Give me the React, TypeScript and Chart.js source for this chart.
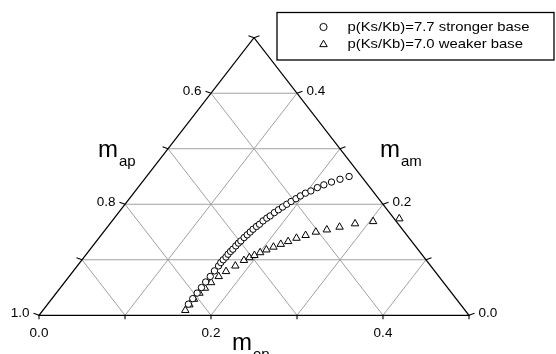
import React, { useEffect, useRef } from "react";
import { Chart, registerables } from "chart.js";

Chart.register(...registerables);

// Stronger base, p(Ks/Kb)=7.7: mole fractions m_am and m_ep along the path
const strongAm = [
  0.02, 0.03, 0.04, 0.05, 0.06, 0.07, 0.08, 0.089, 0.095, 0.1, 0.105, 0.11,
  0.115, 0.119, 0.125, 0.13, 0.134, 0.14, 0.145, 0.15, 0.155, 0.16, 0.164,
  0.17, 0.175, 0.179, 0.185, 0.19, 0.195, 0.2, 0.205, 0.21, 0.215, 0.22,
  0.224, 0.23, 0.235, 0.24, 0.245, 0.25,
];
const strongEp = [
  0.1637, 0.1638, 0.1639, 0.1639, 0.1638, 0.1641, 0.164, 0.1643, 0.1639,
  0.1642, 0.1649, 0.1648, 0.1652, 0.1659, 0.1663, 0.1669, 0.1677, 0.1685,
  0.1696, 0.1706, 0.1714, 0.1729, 0.1744, 0.1755, 0.1774, 0.1793, 0.1812,
  0.1834, 0.1857, 0.1881, 0.1907, 0.1938, 0.1964, 0.1998, 0.2041, 0.2087,
  0.2137, 0.2201, 0.2275, 0.2356,
];

// Weaker base, p(Ks/Kb)=7.0
const weakAm = [
  0.009, 0.019, 0.029, 0.04, 0.049, 0.059, 0.07, 0.079, 0.089, 0.099, 0.104,
  0.108, 0.113, 0.118, 0.123, 0.128, 0.133, 0.139, 0.144, 0.15, 0.154, 0.159,
  0.165, 0.169, 0.174,
];
const weakEp = [
  0.1656, 0.1654, 0.1657, 0.1665, 0.1684, 0.1706, 0.174, 0.178, 0.1838,
  0.1888, 0.1926, 0.1965, 0.2006, 0.2054, 0.2111, 0.2171, 0.2232, 0.2299,
  0.238, 0.2469, 0.2577, 0.27, 0.285, 0.304, 0.3319,
];

const seriesLabels = ["p(Ks/Kb)=7.7 stronger base", "p(Ks/Kb)=7.0 weaker base"];

// Axis ticks (every 0.1, labelled every 0.2)
const tickSteps = [0, 0.1, 0.2, 0.3, 0.4, 0.5];
const epTickLabels = ["0.0", "", "0.2", "", "0.4", ""];
const amTickLabels = ["0.0", "", "0.2", "", "0.4", ""];
const apTickLabels = ["1.0", "", "0.8", "", "0.6", ""];
const gridSteps = [0.1, 0.2, 0.3, 0.4];

const FONT = '"Liberation Sans", Arial, Helvetica, sans-serif';

// ternary (m_ep, m_am) -> cartesian chart units
const toXY = (ep: number, am: number) => ({ x: ep + am / 2, y: am });

function stretchedText(
  ctx: CanvasRenderingContext2D,
  text: string,
  x: number,
  y: number,
  align: CanvasTextAlign,
  sx: number
) {
  ctx.save();
  ctx.translate(x, y);
  ctx.scale(sx, 1);
  ctx.textAlign = align;
  ctx.fillText(text, 0, 0);
  ctx.restore();
}

function axisTitle(
  ctx: CanvasRenderingContext2D,
  main: string,
  sub: string,
  x: number,
  baseline: number
) {
  ctx.save();
  ctx.fillStyle = "#000";
  ctx.textAlign = "left";
  ctx.textBaseline = "alphabetic";
  ctx.font = `24px ${FONT}`;
  ctx.fillText(main, x, baseline);
  const w = ctx.measureText(main).width;
  ctx.font = `15px ${FONT}`;
  ctx.fillText(sub, x + w + 1, baseline + 9);
  ctx.restore();
}

const ternaryFrame = {
  id: "ternaryFrame",
  beforeDatasetsDraw(chart: any) {
    const { ctx } = chart;
    const xs = chart.scales.x;
    const ys = chart.scales.y;
    const P = (ep: number, am: number) => {
      const p = toXY(ep, am);
      return [xs.getPixelForValue(p.x), ys.getPixelForValue(p.y)];
    };
    const seg = (a: number[], b: number[]) => {
      ctx.beginPath();
      ctx.moveTo(a[0], a[1]);
      ctx.lineTo(b[0], b[1]);
      ctx.stroke();
    };
    ctx.save();
    // grid
    ctx.strokeStyle = "#a0a0a0";
    ctx.lineWidth = 1;
    for (const c of gridSteps) {
      seg(P(0, c), P(0.5 - c, c)); // constant m_am
      seg(P(c, 0), P(c, 0.5 - c)); // constant m_ep
      seg(P(c, 0), P(0, c)); // constant m_ap
    }
    // frame
    ctx.strokeStyle = "#000";
    ctx.lineWidth = 1.3;
    ctx.beginPath();
    const a = P(0, 0);
    const b = P(0.5, 0);
    const t = P(0, 0.5);
    ctx.moveTo(a[0], a[1]);
    ctx.lineTo(b[0], b[1]);
    ctx.lineTo(t[0], t[1]);
    ctx.closePath();
    ctx.stroke();
    // ticks
    ctx.lineWidth = 1.1;
    tickSteps.forEach((v) => {
      const pb = P(v, 0);
      seg(pb, [pb[0], pb[1] + 4]);
      const pl = P(0, v);
      seg(pl, [pl[0] - 5.5, pl[1] - 2]);
      const pr = P(0.5 - v, v);
      seg(pr, [pr[0] + 5.5, pr[1] - 2]);
    });
    // tick labels
    ctx.fillStyle = "#000";
    ctx.font = `12.5px ${FONT}`;
    ctx.textBaseline = "middle";
    tickSteps.forEach((v, i) => {
      const pb = P(v, 0);
      if (epTickLabels[i]) stretchedText(ctx, epTickLabels[i], pb[0], pb[1] + 18, "center", 1.08);
      const pl = P(0, v);
      if (apTickLabels[i]) stretchedText(ctx, apTickLabels[i], pl[0] - 9.5, pl[1] - 2, "right", 1.08);
      const pr = P(0.5 - v, v);
      if (amTickLabels[i]) stretchedText(ctx, amTickLabels[i], pr[0] + 9.5, pr[1] - 2, "left", 1.08);
    });
    ctx.restore();
    // axis titles
    axisTitle(ctx, "m", "ap", 98, 157);
    axisTitle(ctx, "m", "am", 380, 157);
    axisTitle(ctx, "m", "ep", 232, 350);
  },
};

const legendBox = {
  id: "legendBox",
  afterDraw(chart: any) {
    const { ctx } = chart;
    const sets = chart.data.datasets;
    ctx.save();
    ctx.fillStyle = "#fff";
    ctx.fillRect(277, 12.5, 277, 47.5);
    ctx.strokeStyle = "#000";
    ctx.lineWidth = 1.3;
    ctx.strokeRect(277, 12.5, 277, 47.5);
    ctx.lineWidth = 1;
    // circle
    ctx.beginPath();
    ctx.arc(323.5, 27, 3.6, 0, Math.PI * 2);
    ctx.stroke();
    // triangle
    const r = 4.3;
    const cx = 323.5;
    const cy = 44.5;
    ctx.beginPath();
    ctx.moveTo(cx, cy - r);
    ctx.lineTo(cx + r * Math.sin((2 * Math.PI) / 3), cy + r / 2);
    ctx.lineTo(cx - r * Math.sin((2 * Math.PI) / 3), cy + r / 2);
    ctx.closePath();
    ctx.stroke();
    ctx.fillStyle = "#000";
    ctx.font = `13.5px ${FONT}`;
    ctx.textBaseline = "middle";
    stretchedText(ctx, sets[0].label, 347.5, 27, "left", 1.1);
    stretchedText(ctx, sets[1].label, 347.5, 44, "left", 1.1);
    ctx.restore();
  },
};

export default function App() {
  const ref = useRef<HTMLCanvasElement | null>(null);

  useEffect(() => {
    if (!ref.current) return;
    const chart = new Chart(ref.current, {
      type: "scatter",
      data: {
        datasets: [
          {
            label: seriesLabels[0],
            data: strongAm.map((am, i) => toXY(strongEp[i], am)),
            pointStyle: "circle",
            radius: 3.2,
            borderColor: "#000",
            backgroundColor: "#fff",
            borderWidth: 1,
          },
          {
            label: seriesLabels[1],
            data: weakAm.map((am, i) => toXY(weakEp[i], am)),
            pointStyle: "triangle",
            radius: 4.3,
            borderColor: "#000",
            backgroundColor: "#fff",
            borderWidth: 1,
          },
        ],
      },
      options: {
        responsive: false,
        animation: false,
        devicePixelRatio: 1,
        layout: { padding: { left: 39, right: 87, top: 37.7, bottom: 38.7 } },
        scales: {
          x: { type: "linear", min: 0, max: 0.5, display: false },
          y: { type: "linear", min: 0, max: 0.5, display: false },
        },
        plugins: {
          legend: { display: false },
          tooltip: { enabled: false },
        },
      },
      plugins: [ternaryFrame, legendBox],
    });
    return () => chart.destroy();
  }, []);

  return (
    <div style={{ position: "fixed", left: 0, top: 0, width: 556, height: 354, background: "#fff" }}>
      <canvas ref={ref} width={556} height={354} style={{ display: "block" }} />
    </div>
  );
}
